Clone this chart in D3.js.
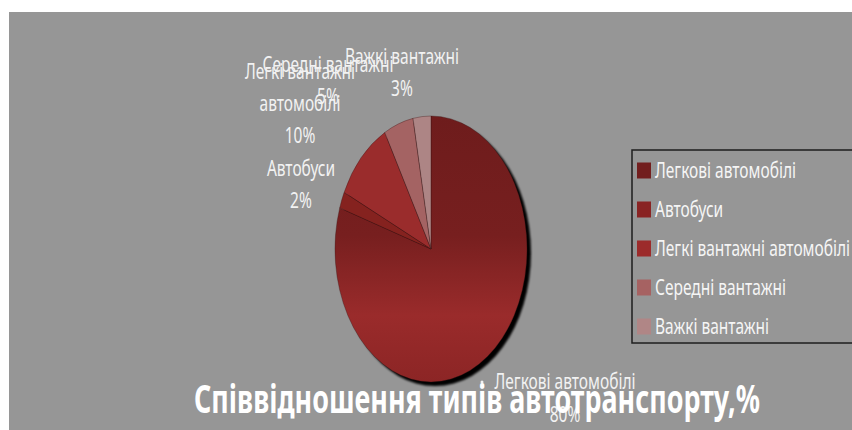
<!DOCTYPE html>
<html>
<head>
<meta charset="utf-8">
<script src="https://cdn.jsdelivr.net/npm/d3@7"></script>
<style>
  body { margin: 0; background: #fff; }
  svg { display: block; font-family: "Noto Sans", "Open Sans", sans-serif; }
</style>
</head>
<body>
<svg width="852" height="430"></svg>
<script>
var svg = d3.select("svg"),
    width = +svg.attr("width"),
    height = +svg.attr("height");

// Data
var categories = ["Легкові автомобілі", "Автобуси", "Легкі вантажні автомобілі", "Середні вантажні", "Важкі вантажні"];
var values = [80, 2, 10, 5, 3];
var labelLines = [["Легкові автомобілі", "80%"], ["Автобуси", "2%"], ["Легкі вантажні", "автомобілі", "10%"], ["Середні вантажні", "5%"], ["Важкі вантажні", "3%"]];
var title = "Співвідношення типів автотранспорту,%";

// Layout
var cx = 431, cy = 249, rx = 96, ry = 133;
var sliceColors = ["url(#bigGrad)", "#85221f", "#9a2c2c", "#a46363", "#ad8585"];
var legendColors = ["#721e1e", "#892323", "#9c2b2b", "#a66262", "#b08686"];
// label anchors (centre x, baseline of first line) as Excel placed them
var labelPos = [[565, 389], [301, 176], [300, 79], [328, 72], [402, 64]];

// the original chart was squeezed sideways; squeeze the text the same way
var squeezeK;
function squeeze(t, k) {
    var w = t.node().getComputedTextLength();
    t.attr("textLength", w * k).attr("lengthAdjust", "spacingAndGlyphs");
}

var defs = svg.append("defs");
var grad = defs.append("linearGradient")
    .attr("id", "bigGrad")
    .attr("x1", 0).attr("y1", 0).attr("x2", 0).attr("y2", 1);
grad.append("stop").attr("offset", "0%").attr("stop-color", "#6e1c1c");
grad.append("stop").attr("offset", "45%").attr("stop-color", "#771f1f");
grad.append("stop").attr("offset", "75%").attr("stop-color", "#9a2b2b");
grad.append("stop").attr("offset", "100%").attr("stop-color", "#8c2525");
defs.append("filter").attr("id", "blur")
  .append("feGaussianBlur").attr("stdDeviation", 1.2);

// Chart area
svg.append("rect")
    .attr("x", 9).attr("y", 12)
    .attr("width", width - 9).attr("height", height - 12)
    .attr("fill", "#969696");

// Pie (elliptical)
var pie = d3.pie().sort(null).value(function (d) { return d; });
var arc = d3.arc().innerRadius(0).outerRadius(rx);
var arcs = pie(values);

svg.append("ellipse")
    .attr("cx", cx + 4).attr("cy", cy + 4)
    .attr("rx", rx).attr("ry", ry)
    .attr("fill", "#000")
    .attr("filter", "url(#blur)");

svg.append("g")
    .attr("transform", "translate(" + cx + "," + cy + ") scale(1," + (ry / rx) + ")")
    .selectAll("path")
    .data(arcs)
    .enter().append("path")
        .attr("d", arc)
        .attr("fill", function (d, i) { return sliceColors[i]; })
        .attr("stroke", "rgba(60,20,20,0.5)")
        .attr("stroke-width", 0.6);

// Legend
var legend = svg.append("g").attr("transform", "translate(632,150)");
legend.append("rect")
    .attr("width", 240).attr("height", 193)
    .attr("fill", "none")
    .attr("stroke", "#1e1e1e")
    .attr("stroke-width", 1.5);
var item = legend.selectAll("g.item")
    .data(categories)
    .enter().append("g")
        .attr("class", "item")
        .attr("transform", function (d, i) { return "translate(0," + (28 + i * 39) + ")"; });
item.append("rect")
    .attr("x", 5).attr("y", -15.5)
    .attr("width", 14).attr("height", 16)
    .attr("fill", function (d, i) { return legendColors[i]; });
var legendText = item.append("text")
    .attr("x", 23).attr("y", 0)
    .attr("font-size", 21)
    .attr("fill", "#f5f5f5")
    .text(function (d) { return d; });
// width of "Легкові автомобілі" in the original is about 141px
squeezeK = 141 / legendText.node().getComputedTextLength();
legendText.each(function () { squeeze(d3.select(this), squeezeK); });

// Data labels
var labels = svg.append("g")
    .attr("fill", "#f2f2f2")
    .attr("font-size", 21)
    .attr("text-anchor", "middle");
labelLines.forEach(function (lines, i) {
    lines.forEach(function (line, j) {
        var t = labels.append("text")
            .attr("x", labelPos[i][0])
            .attr("y", labelPos[i][1] + j * (i === 0 ? 33 : 32))
            .text(line);
        squeeze(t, squeezeK);
    });
});
// leader dot for the big slice
svg.append("circle")
    .attr("cx", 482).attr("cy", 382).attr("r", 1.5)
    .attr("fill", "#f2f2f2");

// Title
var tt = svg.append("text")
    .attr("x", 477).attr("y", 413)
    .attr("text-anchor", "middle")
    .attr("font-weight", "bold")
    .attr("font-size", 38.5)
    .attr("fill", "#ffffff")
    .text(title);
tt.attr("textLength", 566).attr("lengthAdjust", "spacingAndGlyphs");
</script>
</body>
</html>
